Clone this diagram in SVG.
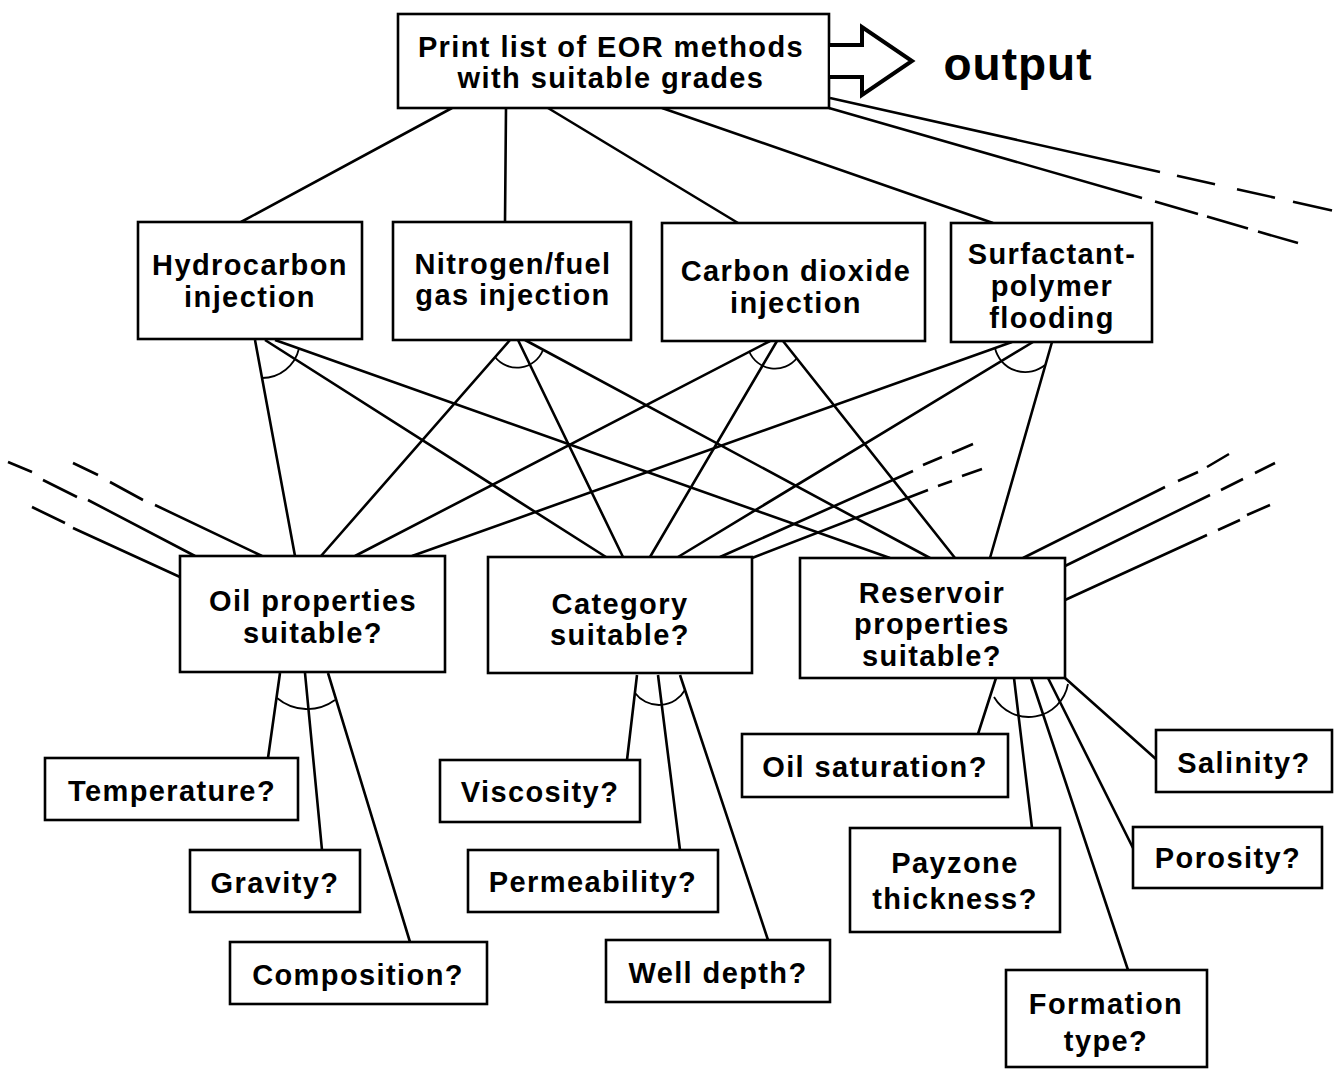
<svg xmlns="http://www.w3.org/2000/svg" width="1335" height="1072" viewBox="0 0 1335 1072">
<style>
.box{fill:#fff;stroke:#000;stroke-width:2.6}
.t{font-family:"Liberation Sans",Arial,sans-serif;font-weight:bold;font-size:29px;letter-spacing:1.4px;text-anchor:middle;fill:#000}
.ln{stroke:#000;stroke-width:2.6;fill:none;stroke-linecap:butt}
.arc{stroke:#000;stroke-width:1.8;fill:none}
</style>
<rect width="1335" height="1072" fill="#fff"/>
<g id="connectors">
<path class="ln" d="M452 108L241 222M506 108L505 222M548 108L738 223M662 108L993 223"/>
<path class="ln" d="M830 98L1160 172M1177 175.7L1215 184.2M1237 189.2L1275 197.7M1293 201.7L1332 210.4"/>
<path class="ln" d="M829 108L1142 198M1155 201.6L1198 214M1207 216.6L1248 228.4M1258 231.6L1298 243"/>
<path class="ln" d="M255 340L295 556M265 340L606 557M275 340L890 558"/>
<path class="ln" d="M510 340L321 556M518 340L623 557M525 340L930 558"/>
<path class="ln" d="M770 341L355 556M777 341L650 557M783 341L955 558"/>
<path class="ln" d="M1012 342L412 556M1033 342L678 557M1052 342L990 558"/>
<path class="arc" d="M262 378A38 38 0 0 0 299 348.5"/>
<path class="arc" d="M495 357A28 28 0 0 0 543 350"/>
<path class="arc" d="M749 351A28 28 0 0 0 797 358"/>
<path class="arc" d="M995 348A31 31 0 0 0 1045 365"/>
<path class="ln" d="M262 556L155 505M143 500L110 482M98 475L73 463"/>
<path class="ln" d="M195 556L88 500M77 497L43 480M32 472L8 462"/>
<path class="ln" d="M180 577L73 528M65 523L32 507"/>
<path class="ln" d="M720 557L913 471M923 465L942 457M952 453L973 444"/>
<path class="ln" d="M752 558L928 490M938 486L952 481M962 476L982 469"/>
<path class="ln" d="M1023 558L1165 487M1178 481L1198 472M1207 467L1229 454"/>
<path class="ln" d="M1065 566L1210 495M1221 490L1243 479M1255 473L1275 463"/>
<path class="ln" d="M1065 600L1207 535M1218 530L1240 520M1247 515L1270 505"/>
<path class="ln" d="M280 673L268 758M305 673L322 850M328 673L410 942"/>
<path class="arc" d="M277 698A47 47 0 0 0 335 700"/>
<path class="ln" d="M637 675L627 760M658 675L680 850M680 675L768 940"/>
<path class="arc" d="M635 693A30 30 0 0 0 685 690"/>
<path class="ln" d="M996 678L978 734M1014 678L1032 828M1031 678L1128 970M1048 678L1133 848M1065 678L1157 760"/>
<path class="arc" d="M994 697A40 40 0 0 0 1068 684"/>
</g>
<g id="print">
<rect class="box" x="398" y="14" width="431" height="94"/>
<text class="t" x="611" y="57">Print list of EOR methods</text>
<text class="t" x="611" y="88">with suitable grades</text>
</g>
<g id="output">
<path d="M830 45H862V27L912 61L862 95V77H830" fill="#fff" stroke="#000" stroke-width="4" stroke-linejoin="miter"/>
<text x="1018" y="80" font-family="Liberation Sans,Arial,sans-serif" font-weight="bold" font-size="46" letter-spacing="1" text-anchor="middle">output</text>
</g>
<g id="hydrocarbon">
<rect class="box" x="138" y="222" width="224" height="117"/>
<text class="t" x="250" y="275">Hydrocarbon</text>
<text class="t" x="250" y="307">injection</text>
</g>
<g id="nitrogen">
<rect class="box" x="393" y="222" width="238" height="118"/>
<text class="t" x="513" y="274">Nitrogen/fuel</text>
<text class="t" x="513" y="305">gas injection</text>
</g>
<g id="co2">
<rect class="box" x="662" y="223" width="263" height="118"/>
<text class="t" x="796" y="281">Carbon dioxide</text>
<text class="t" x="796" y="313">injection</text>
</g>
<g id="surfactant">
<rect class="box" x="951" y="223" width="201" height="119"/>
<text class="t" x="1052" y="264">Surfactant-</text>
<text class="t" x="1052" y="296">polymer</text>
<text class="t" x="1052" y="328">flooding</text>
</g>
<g id="oil">
<rect class="box" x="180" y="556" width="265" height="116"/>
<text class="t" x="313" y="611">Oil properties</text>
<text class="t" x="313" y="643">suitable?</text>
</g>
<g id="category">
<rect class="box" x="488" y="557" width="264" height="116"/>
<text class="t" x="620" y="614">Category</text>
<text class="t" x="620" y="645">suitable?</text>
</g>
<g id="reservoir">
<rect class="box" x="800" y="558" width="265" height="120"/>
<text class="t" x="932" y="603">Reservoir</text>
<text class="t" x="932" y="634">properties</text>
<text class="t" x="932" y="666">suitable?</text>
</g>
<g id="temperature">
<rect class="box" x="45" y="758" width="253" height="62"/>
<text class="t" x="172" y="801">Temperature?</text>
</g>
<g id="gravity">
<rect class="box" x="190" y="850" width="170" height="62"/>
<text class="t" x="275" y="893">Gravity?</text>
</g>
<g id="composition">
<rect class="box" x="230" y="942" width="257" height="62"/>
<text class="t" x="358" y="985">Composition?</text>
</g>
<g id="viscosity">
<rect class="box" x="440" y="760" width="200" height="62"/>
<text class="t" x="540" y="802">Viscosity?</text>
</g>
<g id="permeability">
<rect class="box" x="468" y="850" width="250" height="62"/>
<text class="t" x="593" y="892">Permeability?</text>
</g>
<g id="welldepth">
<rect class="box" x="606" y="940" width="224" height="62"/>
<text class="t" x="718" y="983">Well depth?</text>
</g>
<g id="oilsat">
<rect class="box" x="742" y="734" width="266" height="63"/>
<text class="t" x="875" y="777">Oil saturation?</text>
</g>
<g id="payzone">
<rect class="box" x="850" y="828" width="210" height="104"/>
<text class="t" x="955" y="873">Payzone</text>
<text class="t" x="955" y="909">thickness?</text>
</g>
<g id="salinity">
<rect class="box" x="1156" y="730" width="176" height="62"/>
<text class="t" x="1244" y="773">Salinity?</text>
</g>
<g id="porosity">
<rect class="box" x="1133" y="827" width="189" height="61"/>
<text class="t" x="1228" y="868">Porosity?</text>
</g>
<g id="formation">
<rect class="box" x="1006" y="970" width="201" height="97"/>
<text class="t" x="1106" y="1014">Formation</text>
<text class="t" x="1106" y="1051">type?</text>
</g>
</svg>
